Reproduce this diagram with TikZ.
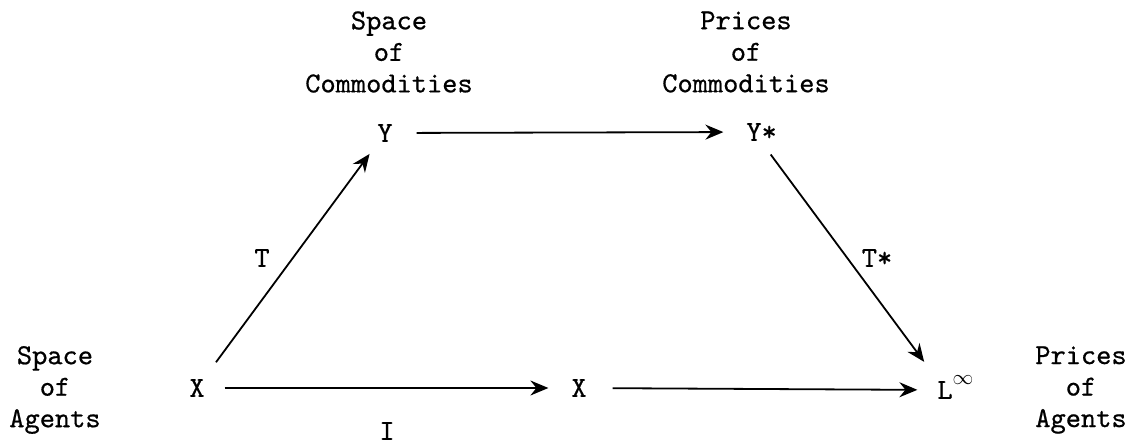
\documentclass[tikz,border=0pt]{standalone}
\usepackage{fontspec}
\newfontfamily\typew{lmmono10-regular}[Extension=.otf, FakeBold=0.6]
\usetikzlibrary{arrows.meta}
\tikzset{
  tt/.style={font=\fontsize{29}{31.5}\selectfont\typew, inner sep=0pt, outer sep=0pt},
  lbl/.style={tt, align=center},
  arr/.style={line width=1.8pt, -{Stealth[length=18pt,width=15pt,inset=6pt]}},
}
\begin{document}
\begin{tikzpicture}[x=1pt,y=-1pt]
\useasboundingbox (0,0) rectangle (1135,444);
% group labels
\node[lbl] (lSC) at (389,52) {Space\\of\\Commodities};
\node[lbl] (lPC) at (746,52) {Prices\\of\\Commodities};
\node[lbl] (lSA) at (55,390) {Space\\of\\Agents};
\node[lbl] (lPA) at (1081,390) {Prices\\of\\Agents};
% objects
\node[tt] (X1) at (197,388) {X};
\node[tt] (X2) at (579,388) {X};
\node[tt] (Y) at (385,133) {Y};
\node[tt] (Ys) at (754,132) {Y\rlap{*}};
\node[tt] (L) at (945,390) {L\rlap{\smash{\raisebox{14pt}{$\scriptstyle\infty$}}}};
% map labels
\node[tt] (T) at (262,258) {T};
\node[tt] (Ts) at (877,258) {T*};
\node[tt] (I) at (387,431) {I};
% arrows
\draw[arr, shorten <=24pt, shorten >=23pt] (Y) -- (Ys);
\draw[arr, shorten <=20pt, shorten >=23pt] (X1) -- (X2);
\draw[arr, shorten <=26pt, shorten >=20pt] (X2) -- (L);
\draw[arr, shorten <=21pt, shorten >=15pt] (X1) -- (Y);
\draw[arr, shorten <=17pt, shorten >=24pt] (Ys) -- (L);
\end{tikzpicture}
\end{document}
